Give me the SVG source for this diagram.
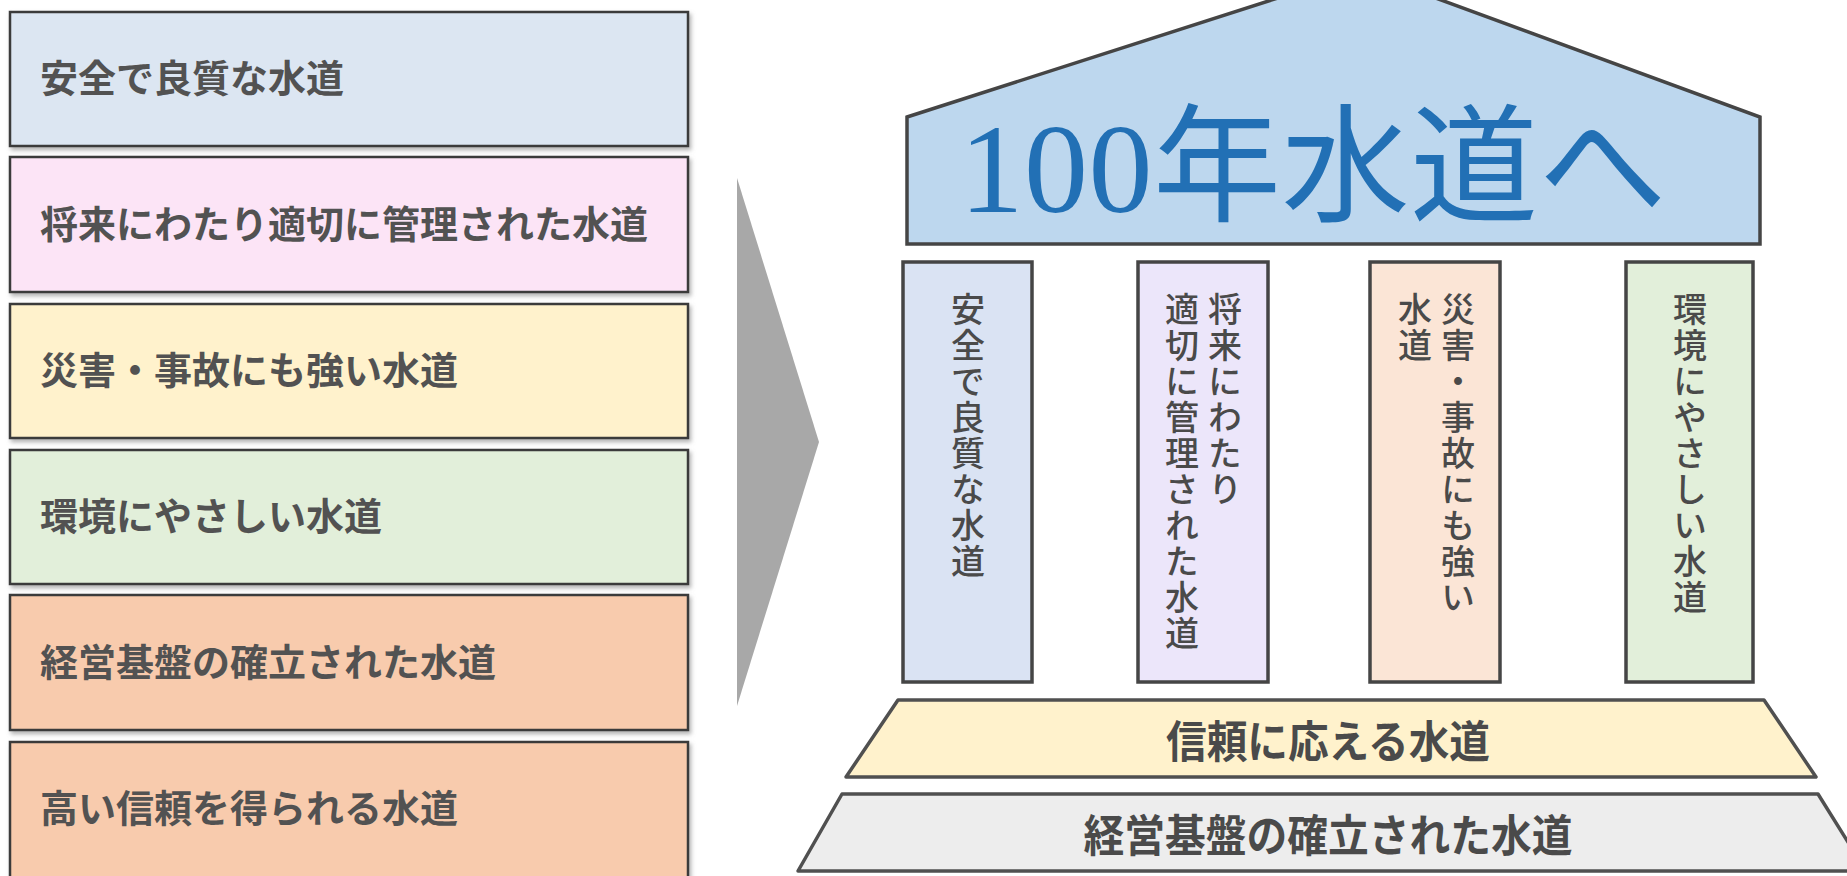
<svg xmlns="http://www.w3.org/2000/svg" width="1847" height="876" viewBox="0 0 1847 876">
  <defs>
    <filter id="sh" x="-5%" y="-10%" width="110%" height="130%">
      <feDropShadow dx="2" dy="3" stdDeviation="2" flood-color="#808080" flood-opacity="0.6"/>
    </filter>
  </defs>
  <style>
    .box { stroke: #3a3a3a; stroke-width: 2.5; filter: url(#sh); }
    .lt { font-family: "Noto Sans CJK JP", "Noto Sans", sans-serif; font-size: 38px; font-weight: 700; fill: #525252; dominant-baseline: central; }
    .pil { stroke: #454545; stroke-width: 3.5; }
    .vt { font-family: "Noto Sans CJK JP", "Noto Sans", sans-serif; font-size: 34px; font-weight: 500; fill: #4a4a4a; writing-mode: vertical-rl; letter-spacing: 2px; }
    .base { stroke: #505050; stroke-width: 3.5; stroke-linejoin: round; }
    .bt { font-family: "Noto Sans CJK JP", "Noto Sans", sans-serif; font-size: 44px; font-weight: 700; fill: #4a4a4a; text-anchor: middle; dominant-baseline: central; }
  </style>
  <rect width="1847" height="876" fill="#ffffff"/>

  <g id="left-list">
    <g id="item1">
      <rect class="box" x="10" y="12" width="678" height="134" fill="#dce6f2"/>
      <text class="lt" x="40" y="75">安全で良質な水道</text>
    </g>
    <g id="item2">
      <rect class="box" x="10" y="157" width="678" height="135" fill="#fce4f6"/>
      <text class="lt" x="40" y="221">将来にわたり適切に管理された水道</text>
    </g>
    <g id="item3">
      <rect class="box" x="10" y="304" width="678" height="134" fill="#fff2cc"/>
      <text class="lt" x="40" y="367">災害・事故にも強い水道</text>
    </g>
    <g id="item4">
      <rect class="box" x="10" y="450" width="678" height="134" fill="#e2efda"/>
      <text class="lt" x="40" y="513">環境にやさしい水道</text>
    </g>
    <g id="item5">
      <rect class="box" x="10" y="595" width="678" height="135" fill="#f8cbad"/>
      <text class="lt" x="40" y="659">経営基盤の確立された水道</text>
    </g>
    <g id="item6">
      <rect class="box" x="10" y="742" width="678" height="140" fill="#f8cbad"/>
      <text class="lt" x="40" y="805">高い信頼を得られる水道</text>
    </g>
  </g>

  <g id="connectors">
    <polygon points="737,178 819,442 737,706" fill="#a8a8a8"/>
  </g>

  <g id="roof">
    <polygon points="907,117 1362,-29 1760,117 1760,244 907,244" fill="#bdd7ee" stroke="#454545" stroke-width="3.5" stroke-linejoin="miter"/>
    <text x="1313" y="212" text-anchor="middle" textLength="707" lengthAdjust="spacing" font-family="'Liberation Serif', 'Noto Sans CJK JP', serif" font-size="128" fill="#2270b5">100年水道へ</text>
  </g>

  <g id="pillar1">
    <rect class="pil" x="903" y="262" width="129" height="420" fill="#dae3f3"/>
    <text class="vt" x="968" y="292">安全で良質な水道</text>
  </g>
  <g id="pillar2">
    <rect class="pil" x="1138" y="262" width="130" height="420" fill="#ece6fa"/>
    <text class="vt" x="1225" y="292">将来にわたり</text>
    <text class="vt" x="1182" y="292">適切に管理された水道</text>
  </g>
  <g id="pillar3">
    <rect class="pil" x="1370" y="262" width="130" height="420" fill="#fbe5d6"/>
    <text class="vt" x="1458" y="292">災害・事故にも強い</text>
    <text class="vt" x="1415" y="292">水道</text>
  </g>
  <g id="pillar4">
    <rect class="pil" x="1626" y="262" width="127" height="420" fill="#e2efda"/>
    <text class="vt" x="1690" y="292">環境にやさしい水道</text>
  </g>

  <g id="base1">
    <polygon class="base" points="898,700 1764,700 1816,777 846,777" fill="#fff2cc"/>
    <text class="bt" x="1328" y="739" textLength="324" lengthAdjust="spacingAndGlyphs">信頼に応える水道</text>
  </g>
  <g id="base2">
    <polygon class="base" points="842,794 1818,794 1866,871 798,871" fill="#ededed"/>
    <text class="bt" x="1328" y="833" textLength="489" lengthAdjust="spacingAndGlyphs">経営基盤の確立された水道</text>
  </g>
</svg>
